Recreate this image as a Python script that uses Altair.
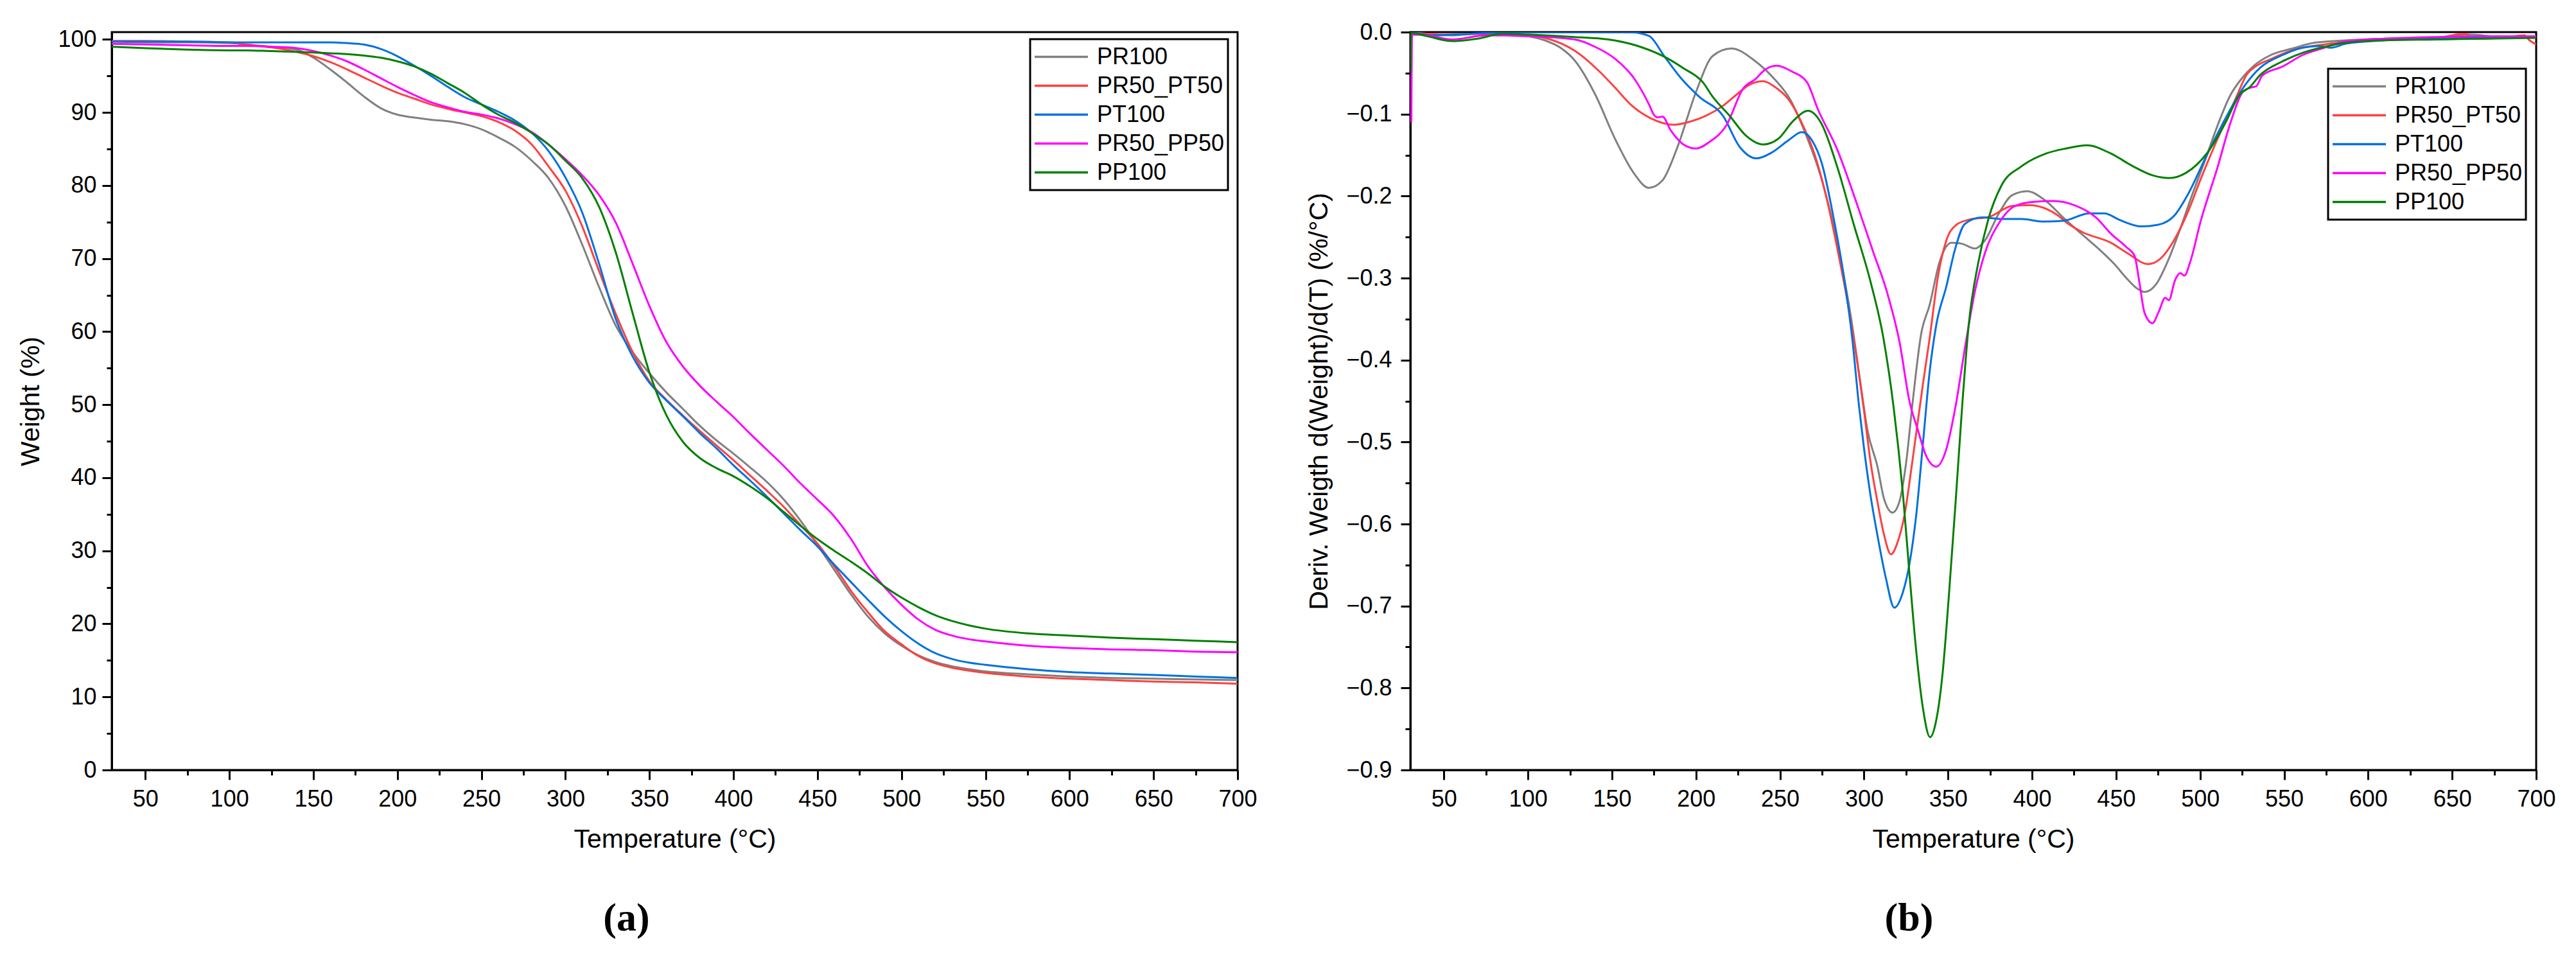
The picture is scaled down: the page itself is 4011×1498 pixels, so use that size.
import altair as alt
import pandas as pd

FONT = "Liberation Sans"
SERIES = ["PR100", "PR50_PT50", "PT100", "PR50_PP50", "PP100"]
COLORS = ["#808080", "#FF4040", "#0070E0", "#FF00FF", "#008000"]

# ---------------- (a) TGA: weight (%) vs temperature ----------------
TGA_T = [30, 50, 75, 100, 110, 125, 140, 150, 160, 170,
         180, 190, 200, 210, 220, 230, 240, 250, 260, 270,
         280, 290, 300, 310, 320, 330, 340, 350, 360, 370,
         380, 390, 400, 410, 420, 430, 440, 450, 460, 470,
         480, 490, 500, 510, 520, 530, 540, 550, 575, 600,
         625, 650, 675, 700]
TGA_PR100 = [99.7, 99.6, 99.6, 99.5, 99.3, 99.0, 98.6, 97.5, 95.9, 94.1,
             92.2, 90.6, 89.7, 89.3, 89.0, 88.8, 88.4, 87.7, 86.6, 85.3,
             83.4, 81.0, 77.2, 71.9, 66.1, 60.8, 57.2, 54.3, 51.7, 49.4,
             47.1, 45.1, 43.3, 41.4, 39.4, 37.0, 34.1, 30.8, 27.4, 24.0,
             21.0, 18.7, 17.0, 15.7, 14.8, 14.2, 13.8, 13.5, 13.1, 12.8,
             12.6, 12.5, 12.4, 12.3]
TGA_PR50_PT50 = [99.8, 99.8, 99.7, 99.6, 99.3, 98.9, 98.3, 97.7, 96.9, 95.9,
                 94.8, 93.7, 92.7, 91.9, 91.1, 90.5, 90.0, 89.5, 88.7, 87.5,
                 85.6, 82.6, 79.3, 74.4, 68.3, 62.4, 57.2, 53.2, 50.7, 48.5,
                 46.4, 44.4, 42.4, 40.3, 38.2, 36.0, 33.5, 31.0, 27.9, 24.5,
                 21.6, 19.0, 17.2, 15.6, 14.6, 14.0, 13.6, 13.3, 12.8, 12.5,
                 12.3, 12.1, 12.0, 11.8]
TGA_PT100 = [99.7, 99.7, 99.7, 99.6, 99.6, 99.6, 99.6, 99.6, 99.6, 99.5,
             99.3, 98.7, 97.7, 96.4, 95.0, 93.5, 92.1, 91.1, 90.1, 88.9,
             87.2, 84.7, 81.1, 76.3, 69.3, 61.7, 56.6, 53.0, 50.6, 48.4,
             46.1, 44.0, 41.7, 39.6, 37.4, 35.1, 32.8, 30.6, 28.1, 25.7,
             23.3, 21.0, 19.0, 17.3, 16.0, 15.2, 14.7, 14.4, 13.8, 13.4,
             13.2, 13.0, 12.8, 12.6]
TGA_PR50_PP50 = [99.4, 99.3, 99.2, 99.1, 99.1, 99.0, 98.8, 98.4, 97.8, 97.0,
                 95.9, 94.7, 93.5, 92.4, 91.4, 90.7, 90.1, 89.7, 89.2, 88.4,
                 87.3, 85.6, 83.6, 81.4, 78.7, 74.9, 69.3, 63.5, 58.6, 55.2,
                 52.6, 50.4, 48.3, 46.0, 43.8, 41.6, 39.2, 37.0, 34.7, 31.6,
                 27.9, 25.0, 22.6, 20.6, 19.2, 18.4, 17.9, 17.6, 17.0, 16.7,
                 16.5, 16.4, 16.2, 16.1]
TGA_PP100 = [99.0, 98.8, 98.6, 98.5, 98.5, 98.4, 98.3, 98.2, 98.1, 98.0,
             97.8, 97.5, 97.0, 96.3, 95.3, 94.0, 92.7, 91.1, 89.7, 88.6,
             87.2, 85.6, 83.4, 81.0, 77.1, 70.8, 62.5, 54.4, 48.6, 44.9,
             42.7, 41.3, 40.2, 38.8, 37.2, 35.3, 33.4, 31.6, 30.0, 28.5,
             26.9, 25.1, 23.6, 22.3, 21.2, 20.4, 19.8, 19.35, 18.7, 18.4,
             18.1, 17.9, 17.7, 17.5]

# ---------------- (b) DTG: (temperature, derivative) pairs ----------------
DTG_PR100 = [(30, 0.0), (40, -0.003), (55, -0.004), (70, -0.002), (85, -0.002),
             (100, -0.005), (110, -0.01), (120, -0.02), (128, -0.035), (140, -0.076),
             (152, -0.131), (163, -0.172), (172, -0.19), (180, -0.181), (189, -0.14),
             (200, -0.073), (210, -0.029), (221, -0.02), (235, -0.035), (247, -0.058),
             (256, -0.082), (265, -0.123), (275, -0.181), (284, -0.257), (292, -0.345),
             (298, -0.43), (302, -0.485), (308, -0.53), (312, -0.57), (317, -0.586),
             (321, -0.573), (325, -0.526), (329, -0.45), (334, -0.368), (339, -0.333),
             (345, -0.28), (352, -0.257), (358, -0.258), (366, -0.264), (372, -0.254),
             (380, -0.222), (388, -0.199), (397, -0.194), (407, -0.204), (419, -0.227),
             (431, -0.249), (440, -0.265), (449, -0.283), (457, -0.302), (462, -0.312),
             (467, -0.317), (474, -0.307), (480, -0.283), (488, -0.241), (495, -0.2),
             (503, -0.156), (510, -0.116), (518, -0.077), (525, -0.056), (532, -0.041),
             (542, -0.028), (555, -0.02), (568, -0.013), (587, -0.01), (610, -0.008),
             (640, -0.007), (660, -0.003), (680, -0.006), (700, -0.005)]
DTG_PR50_PT50 = [(30, 0.0), (50, -0.003), (75, -0.002), (100, -0.004), (110, -0.007),
                 (128, -0.023), (142, -0.047), (151.5, -0.067), (162, -0.09), (173, -0.105),
                 (187, -0.113), (195, -0.11), (206, -0.102), (216, -0.09), (226, -0.073),
                 (232, -0.064), (240, -0.06), (247, -0.067), (255, -0.082), (263, -0.111),
                 (271, -0.152), (278, -0.205), (284, -0.263), (290, -0.327), (296, -0.403),
                 (300, -0.462), (304, -0.526), (308, -0.573), (312, -0.614), (316, -0.637),
                 (320, -0.622), (324, -0.59), (329, -0.52), (335, -0.43), (339, -0.374),
                 (344, -0.298), (349, -0.254), (355, -0.235), (362, -0.229), (375, -0.225),
                 (388, -0.212), (399, -0.211), (409, -0.216), (415, -0.223), (421, -0.233),
                 (430, -0.244), (447, -0.257), (457, -0.27), (469, -0.283), (476, -0.277),
                 (485, -0.252), (493, -0.218), (500, -0.181), (510, -0.132), (521, -0.082),
                 (528, -0.051), (533, -0.042), (542, -0.033), (555, -0.022), (574, -0.015),
                 (587, -0.012), (610, -0.008), (640, -0.007), (658, -0.002), (662, -0.008),
                 (680, -0.007), (693, -0.004), (696, -0.01), (700, -0.015)]
DTG_PT100 = [(30, 0.0), (45, -0.004), (57, -0.003), (75, -0.001), (100, 0.0),
             (130, 0.0), (160, 0.0), (168, -0.002), (173, -0.006), (181, -0.029),
             (191, -0.056), (202, -0.079), (216, -0.102), (226, -0.14), (236, -0.154),
             (245, -0.147), (255, -0.132), (263, -0.122), (269, -0.132), (275, -0.161),
             (282, -0.228), (288, -0.298), (293, -0.374), (297, -0.456), (300, -0.508),
             (304, -0.567), (308, -0.614), (313, -0.666), (318, -0.702), (323, -0.684),
             (327, -0.649), (331, -0.59), (335, -0.503), (339, -0.415), (343, -0.357),
             (349, -0.31), (354, -0.266), (360, -0.234), (370, -0.226), (382, -0.228),
             (394, -0.228), (406, -0.231), (419, -0.23), (434, -0.221), (443, -0.221),
             (452, -0.229), (465, -0.237), (475, -0.235), (485, -0.223), (493, -0.197),
             (504, -0.15), (517, -0.098), (527, -0.064), (536, -0.043), (549, -0.028),
             (561, -0.019), (570, -0.017), (578, -0.019), (587, -0.014), (610, -0.01),
             (640, -0.008), (670, -0.007), (700, -0.006)]
DTG_PR50_PP50 = [(30.6, -0.11), (31, -0.003), (40, -0.004), (55, -0.009), (75, -0.004),
                 (100, -0.005), (128, -0.009), (140, -0.018), (151.5, -0.032), (163, -0.056),
                 (172, -0.088), (175, -0.101), (177, -0.104), (180, -0.103), (185, -0.12),
                 (192.5, -0.137), (200, -0.142), (208, -0.134), (218, -0.114), (228, -0.069),
                 (235.5, -0.057), (241, -0.046), (248, -0.041), (257, -0.048), (266, -0.061),
                 (272.5, -0.094), (284, -0.143), (296, -0.211), (305.6, -0.269), (313.5, -0.316),
                 (321.3, -0.38), (327, -0.45), (332, -0.485), (337, -0.517), (343, -0.53),
                 (348.6, -0.511), (354.5, -0.456), (360, -0.386), (366, -0.316), (372, -0.269),
                 (380, -0.234), (390, -0.212), (401, -0.207), (413, -0.206), (425, -0.211),
                 (438, -0.226), (447, -0.246), (456, -0.262), (461, -0.273), (464, -0.307),
                 (467, -0.343), (471.6, -0.355), (475.4, -0.341), (479.2, -0.324), (481.4, -0.327),
                 (485, -0.303), (488.2, -0.294), (490.7, -0.297), (494, -0.281), (500.3, -0.231),
                 (510.5, -0.164), (518, -0.111), (525.7, -0.072), (529.6, -0.068), (533.4, -0.066),
                 (537, -0.053), (549, -0.042), (561, -0.028), (574, -0.019), (587, -0.011),
                 (610, -0.008), (640, -0.006), (670, -0.005), (700, -0.005)]
DTG_PP100 = [(30.1, -0.049), (30.4, -0.001), (40, -0.005), (55, -0.011), (70, -0.008),
             (85, -0.002), (100, -0.003), (128, -0.006), (148, -0.009), (167, -0.018),
             (183, -0.032), (192.5, -0.044), (204, -0.061), (210, -0.079), (220, -0.102),
             (229.6, -0.126), (240, -0.137), (249, -0.13), (258, -0.108), (266.7, -0.096),
             (274.5, -0.111), (284, -0.164), (293.8, -0.234), (303.8, -0.304), (311.6, -0.374),
             (317.5, -0.456), (323.3, -0.567), (327, -0.66), (331, -0.754), (335, -0.824),
             (339.3, -0.86), (342.8, -0.841), (346.7, -0.783), (350.6, -0.684), (354.5, -0.573),
             (358.4, -0.456), (362.3, -0.357), (368, -0.281), (374, -0.228), (381.8, -0.187),
             (393.5, -0.164), (408.5, -0.148), (420, -0.142), (432.7, -0.138), (446.8, -0.148),
             (459.5, -0.163), (472.2, -0.175), (481.8, -0.178), (491.3, -0.172), (504, -0.148),
             (515.5, -0.109), (523.2, -0.077), (529.6, -0.067), (535.9, -0.052), (548.7, -0.036),
             (561.4, -0.025), (574, -0.018), (587, -0.013), (610, -0.01), (640, -0.009),
             (670, -0.008), (700, -0.007)]

TGA_VALUES = [TGA_PR100, TGA_PR50_PT50, TGA_PT100, TGA_PR50_PP50, TGA_PP100]
DTG_VALUES = [DTG_PR100, DTG_PR50_PT50, DTG_PT100, DTG_PR50_PP50, DTG_PP100]

rows_a = []
for name, vals in zip(SERIES, TGA_VALUES):
    assert len(vals) == len(TGA_T), name
    for t, v in zip(TGA_T, vals):
        rows_a.append({"series": name, "T": t, "v": v})
df_a = pd.DataFrame(rows_a)

rows_b = []
for name, pairs in zip(SERIES, DTG_VALUES):
    for t, v in pairs:
        rows_b.append({"series": name, "T": t, "v": v})
df_b = pd.DataFrame(rows_b)

W, H = 1753, 1149
MAJOR, MINOR = 15, 8

color_scale = alt.Scale(domain=SERIES, range=COLORS)


def make_legend(lx, ly):
    return alt.Legend(
        title=None, orient="none", legendX=lx, legendY=ly,
        symbolType="stroke", symbolSize=6889, symbolStrokeWidth=3.5,
        labelFont=FONT, labelFontSize=36, labelColor="black", labelOffset=12,
        strokeColor="black", fillColor="white", padding=5,
        clipHeight=45, rowPadding=0, labelLimit=400,
    )


x_axis = alt.Axis(
    title="Temperature (°C)",
    values=list(range(50, 701, 25)),
    labelExpr="datum.value % 50 === 0 ? datum.label : ''",
    tickSize={"condition": {"test": "datum.value % 50 === 0", "value": MAJOR}, "value": MINOR},
    labelPadding=13, titlePadding=25,
)
x_enc = alt.X("T:Q", scale=alt.Scale(domain=[30, 700], nice=False, zero=False), axis=x_axis)

ya_axis = alt.Axis(
    title="Weight (%)",
    values=list(range(0, 101, 5)),
    labelExpr="datum.value % 10 === 0 ? datum.label : ''",
    tickSize={"condition": {"test": "datum.value % 10 === 0", "value": MAJOR}, "value": MINOR},
    labelPadding=9, titlePadding=20,
)
chart_a = alt.Chart(df_a).mark_line(strokeWidth=3, interpolate="monotone", clip=True).encode(
    x=x_enc,
    y=alt.Y("v:Q", scale=alt.Scale(domain=[0, 101], nice=False, zero=False), axis=ya_axis),
    color=alt.Color("series:N", scale=color_scale, legend=make_legend(1430, 11)),
    order=alt.Order("T:Q"),
).properties(
    width=W, height=H,
    title=alt.TitleParams("(a)", orient="bottom", font="Liberation Serif", fontSize=62,
                          fontWeight="bold", color="black", offset=73, dx=-75, anchor="middle"),
)

yb_ticks = [round(-0.05 * i, 2) for i in range(19)]
yb_axis = alt.Axis(
    title="Deriv. Weigth d(Weight)/d(T) (%/°C)",
    values=yb_ticks, format=".1f",
    labelExpr="abs(round(datum.value * 100)) % 10 === 0 ? datum.label : ''",
    tickSize={"condition": {"test": "abs(round(datum.value * 100)) % 10 === 0", "value": MAJOR},
              "value": MINOR},
    labelPadding=14, titlePadding=20,
)
chart_b = alt.Chart(df_b).mark_line(strokeWidth=3, interpolate="monotone", clip=True).encode(
    x=x_enc,
    y=alt.Y("v:Q", scale=alt.Scale(domain=[-0.9, 0], nice=False, zero=False), axis=yb_axis),
    color=alt.Color("series:N", scale=color_scale, legend=make_legend(1429, 57)),
    order=alt.Order("T:Q"),
).properties(
    width=W, height=H,
    title=alt.TitleParams("(b)", orient="bottom", font="Liberation Serif", fontSize=62,
                          fontWeight="bold", color="black", offset=73, dx=-100, anchor="middle"),
)

chart = alt.hconcat(chart_a, chart_b, spacing=269, bounds="flush").resolve_legend(
    color="independent"
).properties(
    padding={"left": 18, "top": 22, "right": 5, "bottom": 5},
    background="white",
).configure_view(
    stroke="black", strokeWidth=3,
).configure_axis(
    domainColor="black", domainWidth=3, tickColor="black", tickWidth=3,
    labelFont=FONT, labelFontSize=36, labelColor="black",
    titleFont=FONT, titleFontSize=41, titleFontWeight="normal", titleColor="black",
    grid=False, labelFlush=False, labelOverlap=False,
).configure_legend(
    strokeWidth=3,
)

chart.save("out.html", embed_options={"renderer": "svg", "actions": False})
